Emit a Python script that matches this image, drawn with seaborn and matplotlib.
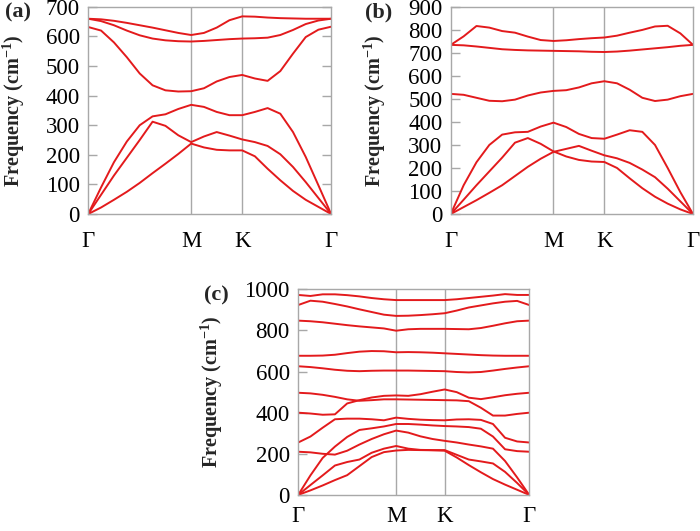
import numpy as np
import pandas as pd
import matplotlib.pyplot as plt
import seaborn as sns

# positions of the high-symmetry points along the path (fraction of path length)
K_M = 0.424
K_K = 0.634
path_labels = ["Γ", "M", "K", "Γ"]

# sampling of the path: 8 steps Γ-M, 4 steps M-K, 7 steps K-Γ
kpath = np.concatenate([np.linspace(0, K_M, 9),
                        np.linspace(K_M, K_K, 5)[1:],
                        np.linspace(K_K, 1, 8)[1:]])

# ---- panel (a) bands, cm^-1 ----
a_band1 = [0, 22, 48, 75, 105, 138, 170, 203, 238, 225, 217, 215, 215, 195, 153, 114, 78, 48, 24, 0]
a_band2 = [0, 65, 130, 190, 250, 312, 298, 266, 243, 262, 277, 265, 252, 243, 230, 202, 159, 108, 54, 0]
a_band3 = [0, 90, 175, 245, 300, 330, 337, 355, 369, 362, 345, 334, 334, 345, 358, 339, 277, 193, 97, 0]
a_band4 = [632, 620, 580, 530, 475, 435, 418, 414, 415, 425, 448, 463, 470, 458, 450, 483, 542, 598, 623, 633]
a_band5 = [660, 652, 638, 620, 604, 593, 587, 584, 583, 585, 588, 591, 593, 594, 596, 605, 622, 642, 654, 660]
a_band6 = [660, 658, 653, 646, 638, 630, 621, 612, 605, 612, 630, 655, 668, 667, 664, 662, 661, 660, 660, 660]

# ---- panel (b) bands ----
b_band1 = [0, 30, 60, 92, 125, 165, 205, 240, 270, 283, 296, 275, 255, 242, 222, 193, 160, 110, 55, 0]
b_band2 = [0, 62, 125, 185, 245, 310, 330, 305, 272, 250, 235, 228, 226, 200, 155, 112, 75, 45, 20, 0]
b_band3 = [0, 125, 225, 300, 345, 355, 357, 380, 397, 378, 348, 330, 327, 345, 364, 357, 300, 200, 95, 0]
b_band4 = [522, 518, 505, 492, 490, 497, 515, 528, 535, 538, 550, 568, 577, 568, 540, 505, 491, 497, 512, 522]
b_band5 = [735, 733, 728, 722, 716, 713, 711, 710, 709, 708, 707, 705, 704, 706, 710, 715, 720, 725, 731, 735]
b_band6 = [735, 772, 817, 810, 795, 788, 771, 756, 752, 755, 760, 764, 767, 775, 788, 800, 815, 818, 785, 735]

# ---- panel (c) bands ----
c_band1 = [0, 22, 46, 72, 96, 140, 184, 208, 216, 219, 218, 217, 215, 182, 145, 110, 77, 50, 25, 0]
c_band2 = [0, 48, 95, 143, 160, 172, 205, 225, 238, 225, 219, 218, 218, 195, 172, 163, 153, 112, 58, 0]
c_band3 = [0, 95, 180, 235, 282, 316, 324, 333, 345, 345, 342, 338, 335, 333, 330, 322, 284, 222, 213, 210]
c_band4 = [210, 207, 200, 196, 215, 245, 272, 295, 313, 303, 285, 272, 263, 255, 245, 236, 225, 165, 85, 0]
c_band5 = [255, 284, 327, 368, 371, 371, 368, 363, 376, 370, 366, 364, 363, 367, 368, 365, 345, 278, 260, 255]
c_band6 = [400, 396, 390, 392, 445, 461, 474, 482, 484, 482, 490, 502, 513, 500, 473, 466, 475, 485, 492, 497]
c_band7 = [497, 494, 487, 477, 465, 458, 461, 465, 465, 464, 463, 462, 461, 460, 456, 424, 386, 386, 394, 400]
c_band8 = [626, 622, 616, 609, 604, 602, 604, 605, 605, 605, 604, 603, 602, 598, 596, 598, 605, 613, 620, 626]
c_band9 = [677, 677, 678, 682, 690, 697, 700, 699, 694, 695, 694, 692, 689, 686, 683, 680, 678, 677, 677, 677]
c_band10 = [848, 845, 840, 833, 826, 820, 815, 810, 799, 806, 808, 808, 808, 807, 806, 812, 823, 835, 845, 848]
c_band11 = [924, 945, 940, 929, 917, 903, 890, 877, 871, 872, 875, 879, 884, 897, 912, 922, 932, 940, 944, 924]
c_band12 = [973, 968, 976, 976, 972, 966, 958, 952, 948, 948, 948, 948, 948, 952, 958, 964, 970, 977, 973, 973]

RED = "#e31a1c"
GRAY = "#a8a8a8"
TICK_SIZE = 16.5

sns.set_theme(style="white")
plt.rcParams["font.family"] = ["Liberation Serif", "DejaVu Serif"]
plt.rcParams["mathtext.fontset"] = "custom"
plt.rcParams["mathtext.rm"] = "Liberation Serif"
plt.rcParams["mathtext.bf"] = "Liberation Serif:bold"
plt.rcParams["mathtext.it"] = "Liberation Serif:italic"


def draw_panel(ax, bands, ymax, ystep, right_ticks, label_x, xpad):
    df = pd.DataFrame({
        "k": np.tile(kpath, len(bands)),
        "freq": np.concatenate(bands),
        "band": np.repeat(np.arange(len(bands)), len(kpath)),
    })
    for x in (K_M, K_K):
        ax.axvline(x, color=GRAY, lw=1, zorder=0)
    sns.lineplot(data=df, x="k", y="freq", units="band", estimator=None,
                 color=RED, lw=1.4, ax=ax, legend=False)
    ax.set_xlim(0, 1)
    ax.set_ylim(0, ymax)
    ax.set_yticks(np.arange(0, ymax + 1, ystep))
    ax.set_xticks([0, K_M, K_K, 1])
    ax.set_xticklabels(path_labels)
    for sp in ax.spines.values():
        sp.set_color(GRAY)
        sp.set_linewidth(1)
    ax.tick_params(axis="y", direction="in", length=6.5, width=1, color=GRAY,
                   labelsize=TICK_SIZE, pad=6, left=True, right=right_ticks, labelcolor="black")
    ax.tick_params(axis="x", length=0, labelsize=TICK_SIZE, pad=xpad, labelcolor="black")
    ax.set_xlabel("")
    ax.set_ylabel(r"Frequency (cm$^{\mathbf{-1}}$)", fontsize=14.5, fontweight="bold")
    ax.yaxis.set_label_coords(label_x, 0.5)


fig = plt.figure(figsize=(7, 5.31), dpi=100)
ax_a = fig.add_axes([0.126, 0.597, 0.347, 0.390])
ax_b = fig.add_axes([0.644, 0.597, 0.346, 0.390])
ax_c = fig.add_axes([0.426, 0.068, 0.330, 0.387])

draw_panel(ax_a, [a_band1, a_band2, a_band3, a_band4, a_band5, a_band6], 700, 100, True, -0.252, 12)
draw_panel(ax_b, [b_band1, b_band2, b_band3, b_band4, b_band5, b_band6], 900, 100, False, -0.258, 12)
draw_panel(ax_c, [c_band1, c_band2, c_band3, c_band4, c_band5, c_band6, c_band7, c_band8,
                  c_band9, c_band10, c_band11, c_band12], 1000, 200, False, -0.318, 8)

fig.text(0.007, 0.977, "(a)", fontsize=16, fontweight="bold", ha="left", va="center")
fig.text(0.522, 0.977, "(b)", fontsize=16, fontweight="bold", ha="left", va="center")
fig.text(0.292, 0.444, "(c)", fontsize=16, fontweight="bold", ha="left", va="center")

fig.savefig("out.png", dpi=100)
